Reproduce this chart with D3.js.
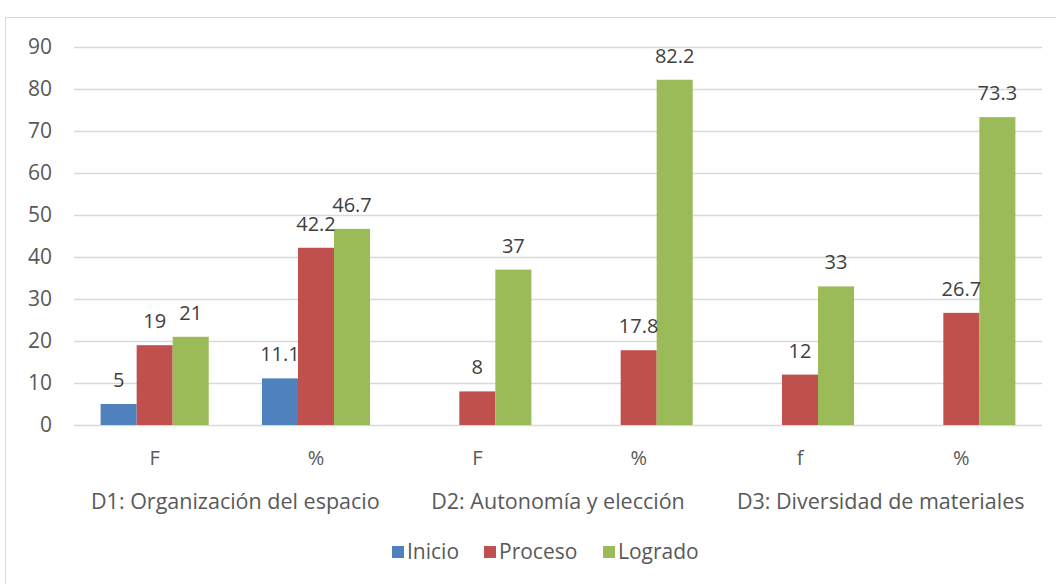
<!DOCTYPE html>
<html>
<head>
<meta charset="utf-8">
<script src="https://cdn.jsdelivr.net/npm/d3@7"></script>
<style>
  body { margin: 0; background: #fff; }
  svg { font-family: "Open Sans", sans-serif; }
</style>
</head>
<body>
<div id="chart"></div>
<script>
// grouped bars, three dimensions with a count (F) and a percent column each
const dimensions = ["D1: Organización del espacio", "D2: Autonomía y elección", "D3: Diversidad de materiales"]
const subLabels = ["F", "%", "F", "%", "f", "%"]
const seriesNames = ["Inicio", "Proceso", "Logrado"]
const inicio = [5, 11.1, null, null, null, null]
const proceso = [19, 42.2, 8, 17.8, 12, 26.7]
const logrado = [21, 46.7, 37, 82.2, 33, 73.3]
const colors = ["#4F81BD", "#C0504D", "#9BBB59"]
const yTicks = [0, 10, 20, 30, 40, 50, 60, 70, 80, 90]

const W = 1056, H = 584
const plot = {left: 74, right: 1042, top: 47, bottom: 425}

const svg = d3.select("#chart").append("svg")
	.attr("width", W)
	.attr("height", H)

// outer chart border
svg.append("rect")
	.attr("x", 5.5).attr("y", 17.5)
	.attr("width", W).attr("height", H)
	.attr("fill", "none")
	.attr("stroke", "#d9d9d9")

const idx = d3.range(subLabels.length)
const x0 = d3.scaleBand()
	.domain(idx)
	.range([plot.left, plot.right])
	.paddingInner(0.33)
	.paddingOuter(0.165)

const x1 = d3.scaleBand()
	.domain(seriesNames)
	.range([0, x0.bandwidth()])

const y = d3.scaleLinear()
	.domain([0, 90])
	.range([plot.bottom, plot.top])

// gridlines + y labels
const yAxis = svg.append("g")
	.attr("transform", `translate(${plot.left},0)`)
	.call(d3.axisLeft(y).tickValues(yTicks).tickSize(-(plot.right - plot.left)).tickPadding(22))
yAxis.select(".domain").remove()
yAxis.selectAll(".tick line").attr("stroke", "#d9d9d9").attr("stroke-width", 1.3)
yAxis.selectAll(".tick text")
	.attr("fill", "#595959")
	.style("font-size", "21px")
	.style("font-family", "Open Sans, sans-serif")

const rows = idx.map(i => ({i, vals: [inicio[i], proceso[i], logrado[i]]}))

const groups = svg.append("g").selectAll("g")
	.data(rows)
	.join("g")
	.attr("transform", d => `translate(${x0(d.i)},0)`)

groups.selectAll("rect")
	.data(d => d.vals.map((v, k) => ({v, k})).filter(e => e.v != null))
	.join("rect")
	.attr("x", e => x1(seriesNames[e.k]))
	.attr("y", e => y(e.v))
	.attr("width", x1.bandwidth())
	.attr("height", e => y(0) - y(e.v))
	.attr("fill", e => colors[e.k])

groups.selectAll("text")
	.data(d => d.vals.map((v, k) => ({v, k})).filter(e => e.v != null))
	.join("text")
	.attr("x", e => x1(seriesNames[e.k]) + x1.bandwidth() / 2)
	.attr("y", e => y(e.v) - 17)
	.attr("text-anchor", "middle")
	.attr("fill", "#404040")
	.style("font-size", "20px")
	.text(e => e.v)

// sub category labels
svg.append("g").selectAll("text")
	.data(idx)
	.join("text")
	.attr("x", i => x0(i) + x0.bandwidth() / 2)
	.attr("y", 465)
	.attr("text-anchor", "middle")
	.attr("fill", "#595959")
	.style("font-size", "20px")
	.text(i => subLabels[i])

// dimension labels, centered under each pair
const step = x0.step()
svg.append("g").selectAll("text")
	.data(dimensions)
	.join("text")
	.attr("x", (d, j) => plot.left + step * (2 * j + 1))
	.attr("y", 509)
	.attr("text-anchor", "middle")
	.attr("fill", "#595959")
	.style("font-size", "21.5px")
	.text(d => d)

// legend
const legendX = [392, 484, 603]
const legend = svg.append("g").selectAll("g")
	.data(seriesNames)
	.join("g")
	.attr("transform", (d, k) => `translate(${legendX[k]},546)`)
legend.append("rect")
	.attr("width", 12).attr("height", 12)
	.attr("fill", (d, k) => colors[k])
legend.append("text")
	.attr("x", 15).attr("y", 13)
	.attr("fill", "#595959")
	.style("font-size", "21px")
	.text(d => d)
</script>
</body>
</html>
